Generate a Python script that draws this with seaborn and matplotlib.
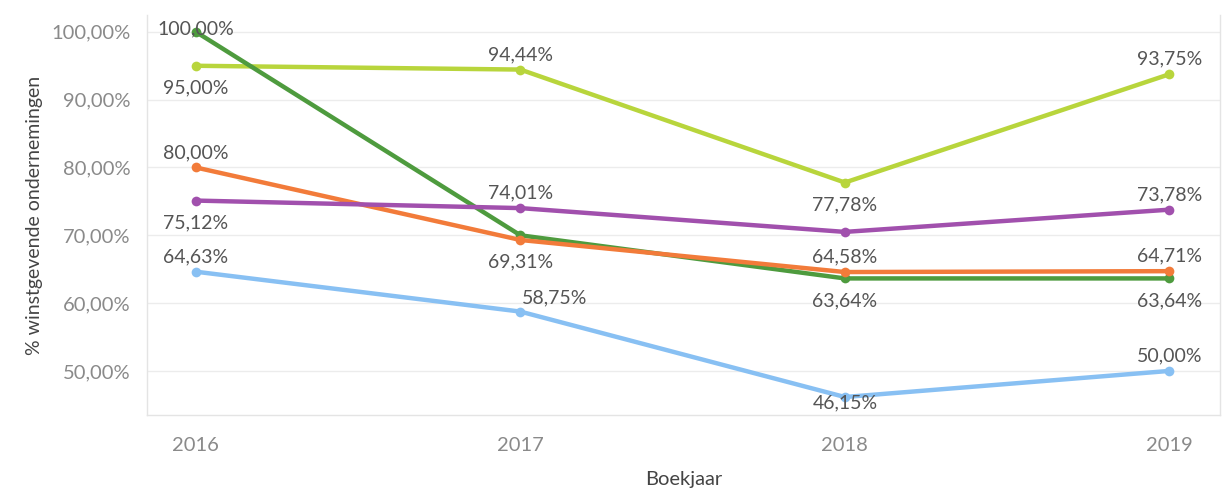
import pandas as pd
import matplotlib.pyplot as plt
import seaborn as sns

# Data
years = [2016, 2017, 2018, 2019]
reeks_a = [95.00, 94.44, 77.78, 93.75]   # light green
reeks_b = [100.00, 70.00, 63.64, 63.64]  # dark green
reeks_c = [80.00, 69.31, 64.58, 64.71]   # orange
reeks_d = [75.12, 74.01, 70.50, 73.78]   # purple
reeks_e = [64.63, 58.75, 46.15, 50.00]   # light blue
series_names = ['A', 'B', 'C', 'D', 'E']
colors = ['#b8d53c', '#4e9b3e', '#f27b3a', '#a150ad', '#88c0f3']

df = pd.DataFrame({
    'Boekjaar': years * 5,
    'pct': reeks_a + reeks_b + reeks_c + reeks_d + reeks_e,
    'reeks': [n for n in series_names for _ in years],
})

# label placement per point: (dx pixels, dy pixels, ha) or None for no label
placement = {
    'A': [(0, -22, 'center'), (0, 15, 'center'), (0, -22, 'center'), (0, 15, 'center')],
    'B': [(0, 3, 'center'), None, (0, -22, 'center'), (0, -22, 'center')],
    'C': [(0, 15, 'center'), (0, -22, 'center'), (0, 15, 'center'), (0, 15, 'center')],
    'D': [(0, -22, 'center'), (0, 15, 'center'), None, (0, 15, 'center')],
    'E': [(0, 15, 'center'), (2, 14, 'left'), (0, -6, 'center'), (0, 15, 'center')],
}

sns.set_style('white')
plt.rcParams['font.family'] = ['Lato', 'DejaVu Sans']

fig = plt.figure(figsize=(12.27, 4.97), dpi=100)
ax = fig.add_axes([0.12, 0.165, 0.874, 0.805])

ax.yaxis.grid(True, color='#ececec', linewidth=1)
ax.set_axisbelow(True)

sns.lineplot(data=df, x='Boekjaar', y='pct', hue='reeks', palette=colors,
             marker='o', markersize=7, markeredgewidth=0, linewidth=3.2,
             legend=False, ax=ax)

for name, vals in zip(series_names, [reeks_a, reeks_b, reeks_c, reeks_d, reeks_e]):
    for yr, v, pl in zip(years, vals, placement[name]):
        if pl is None:
            continue
        dx, dy, ha = pl
        ax.annotate(f'{v:.2f}%'.replace('.', ','), (yr, v), xytext=(dx, dy),
                    textcoords='offset pixels', ha=ha, va='center',
                    fontsize=14, color='#555555')

ax.set_xlim(2015.85, 2019.155)
ax.set_ylim(43.5, 102.5)
ax.set_xticks(years)
ax.set_xticklabels([str(y) for y in years])
ax.set_yticks([50, 60, 70, 80, 90, 100])
ax.set_yticklabels([f'{t},00%' for t in [50, 60, 70, 80, 90, 100]])
ax.tick_params(axis='both', length=0, labelsize=14.5, labelcolor='#8a8a8a')
ax.tick_params(axis='y', pad=12)
ax.tick_params(axis='x', pad=16)

ax.set_xlabel('Boekjaar', fontsize=14.5, color='#444444', labelpad=12)
ax.set_ylabel('% winstgevende ondernemingen', fontsize=14, color='#444444', labelpad=6)

for s in ax.spines.values():
    s.set_color('#e4e4e4')
    s.set_linewidth(1)
ax.spines['top'].set_visible(False)

fig.savefig('out.png', dpi=100)
